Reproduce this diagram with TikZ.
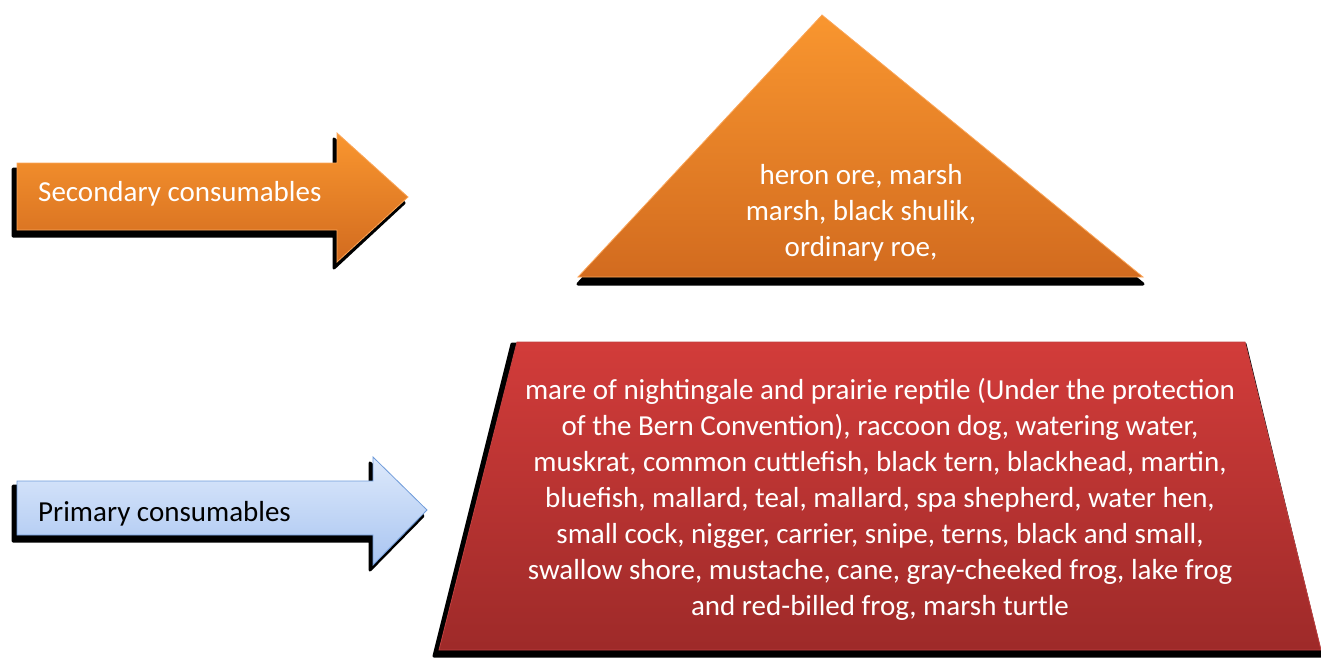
\documentclass[tikz,border=0pt]{standalone}
\usepackage{fontspec}
\setmainfont{Carlito}
\begin{document}
\begin{tikzpicture}[x=1pt,y=-1pt,
  shadowfill/.style={fill=black,draw=black,line width=3pt,line join=round},
  orangefill/.style={top color=orangetop,bottom color=orangebot,draw=orangeedge,line width=0.8pt},
  redfill/.style={top color=redtop,bottom color=redbot,draw=rededge,line width=0.8pt},
  bluefill/.style={top color=bluetop,bottom color=bluebot,draw=blueedge,line width=0.8pt},
  lbl/.style={font=\fontsize{29}{36}\selectfont,inner sep=0pt,align=center}]
\definecolor{orangetop}{HTML}{F9962F}
\definecolor{orangebot}{HTML}{D26B1F}
\definecolor{orangeedge}{HTML}{FBA65A}
\definecolor{redtop}{HTML}{D23C3A}
\definecolor{redbot}{HTML}{9E2A29}
\definecolor{rededge}{HTML}{C04040}
\definecolor{bluetop}{HTML}{DDE9FB}
\definecolor{bluebot}{HTML}{A9C5F1}
\definecolor{blueedge}{HTML}{6F9BD9}
\useasboundingbox (0,0) rectangle (1321,659);
% triangle
\fill[shadowfill] (822,20) -- (1143,284) -- (578,284) -- cycle;
\path[orangefill] (822,15) -- (1143,277) -- (578,277) -- cycle;
\node[lbl,text=white] (tri) at (861,213) {heron ore, marsh\\marsh, black shulik,\\ordinary roe,};
% trapezoid
\fill[shadowfill] (512,344) -- (1245,344) -- (1321,656) -- (434,656) -- cycle;
\path[redfill] (517,342) -- (1245,342) -- (1321,650) -- (439,650) -- cycle;
\node[lbl,text=white] (trap) at (880,499) {mare of nightingale and prairie reptile (Under the protection\\of the Bern Convention), raccoon dog, watering water,\\muskrat, common cuttlefish, black tern, blackhead, martin,\\bluefish, mallard, teal, mallard, spa shepherd, water hen,\\small cock, nigger, carrier, snipe, terns, black and small,\\swallow shore, mustache, cane, gray-cheeked frog, lake frog\\and red-billed frog, marsh turtle};
% secondary arrow
\fill[shadowfill] (13,169) -- (334,169) -- (334,139) -- (404,203) -- (334,268) -- (334,236) -- (13,236) -- cycle;
\path[orangefill] (17,163) -- (337,163) -- (337,133) -- (408,197) -- (337,262) -- (337,230) -- (17,230) -- cycle;
\node[lbl,text=white,anchor=west] (sec) at (38,194) {Secondary consumables};
% primary arrow
\fill[shadowfill] (13,486) -- (370,486) -- (370,463) -- (423,516) -- (370,570) -- (370,541) -- (13,541) -- cycle;
\path[bluefill] (17,481) -- (373,481) -- (373,457) -- (427,510) -- (373,565) -- (373,535) -- (17,535) -- cycle;
\begin{scope}
\clip (17,481) rectangle (373,525);
\node[lbl,text=black,anchor=west] (pri) at (38,514) {Primary consumables};
\end{scope}
\end{tikzpicture}
\end{document}
